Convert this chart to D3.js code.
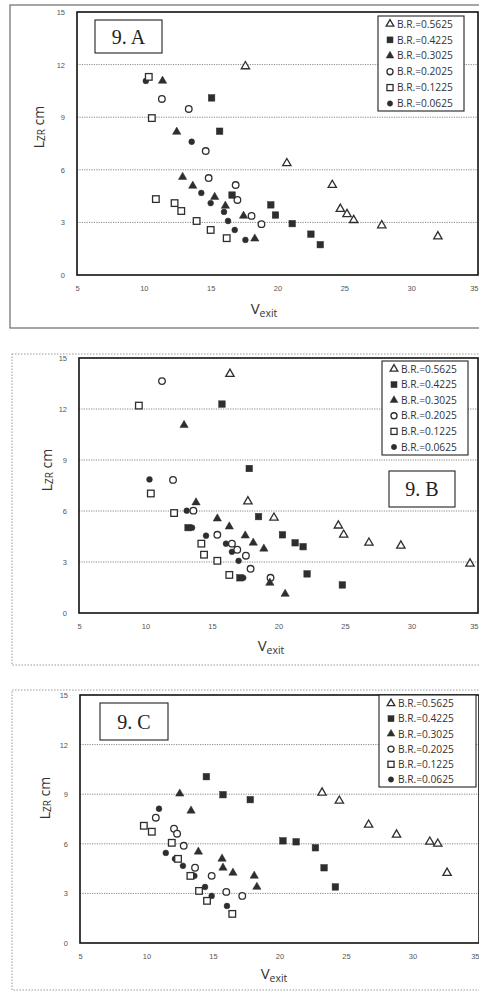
<!DOCTYPE html>
<html><head><meta charset="utf-8">
<script src="https://cdn.jsdelivr.net/npm/d3@7"></script>
<style>body{margin:0;background:#fff}svg{display:block}</style>
</head><body><svg id="c" width="479" height="991"></svg>
<script>
// ---------- data ----------
const seriesLabels = ["B.R.=0.5625","B.R.=0.4225","B.R.=0.3025","B.R.=0.2025","B.R.=0.1225","B.R.=0.0625"];
const seriesShapes = ["triOpen","sqFill","triFill","circOpen","sqOpen","circFill"];
const xTicks = [5,10,15,20,25,30,35];
const yTicks = [0,3,6,9,12,15];
const gridValues = [3,6,9,12];
const panelTitles = ["9. A","9. B","9. C"];

// Panel 9.A  [Vexit, LZR]
const A_05625 = [[17.6,11.9],[20.7,6.37],[24.1,5.13],[24.7,3.77],[25.2,3.47],[25.7,3.13],[27.8,2.83],[32.0,2.2]];
const A_04225 = [[15.07,10.1],[15.67,8.2],[16.6,4.56],[19.5,4.0],[19.85,3.42],[21.1,2.93],[22.5,2.33],[23.2,1.73]];
const A_03025 = [[11.4,11.07],[12.46,8.16],[12.9,5.59],[13.66,5.08],[15.3,4.45],[16.1,3.94],[17.46,3.37],[18.3,2.07]];
const A_02025 = [[11.35,10.04],[13.36,9.47],[14.63,7.07],[14.85,5.53],[16.87,5.13],[17.0,4.28],[18.06,3.37],[18.8,2.9]];
const A_01225 = [[10.37,11.3],[10.6,8.95],[10.9,4.33],[12.3,4.1],[12.8,3.65],[13.95,3.08],[15.0,2.57],[16.2,2.1]];
const A_00625 = [[10.15,11.07],[13.58,7.6],[14.3,4.68],[15.0,4.1],[16.0,3.6],[16.3,3.08],[16.8,2.57],[17.6,2.0]];

// Panel 9.B
const B_05625 = [[16.35,14.06],[17.7,6.56],[19.66,5.6],[24.5,5.14],[24.9,4.6],[26.8,4.13],[29.2,3.96],[34.4,2.9]];
const B_04225 = [[15.75,12.29],[17.8,8.5],[18.5,5.67],[13.2,5.02],[20.3,4.6],[21.25,4.13],[21.85,3.9],[22.15,2.3],[17.1,2.07],[24.8,1.65]];
const B_03025 = [[12.9,11.05],[13.8,6.5],[15.4,5.55],[16.3,5.08],[17.5,4.55],[18.1,4.13],[18.9,3.78],[19.35,1.77],[20.5,1.12]];
const B_02025 = [[11.24,13.64],[12.07,7.83],[13.6,6.02],[15.4,4.6],[16.5,4.08],[16.9,3.72],[17.55,3.37],[17.9,2.6],[19.4,2.07]];
const B_01225 = [[9.5,12.2],[10.4,7.03],[12.15,5.88],[14.2,4.08],[14.4,3.43],[15.4,3.07],[16.3,2.24]];
const B_00625 = [[10.3,7.86],[13.1,6.02],[13.5,5.02],[14.55,4.55],[16.05,4.08],[16.5,3.6],[17.0,3.07],[17.35,2.07]];

// Panel 9.C
const C_05625 = [[23.2,9.09],[24.5,8.6],[26.7,7.15],[28.8,6.55],[31.3,6.12],[31.9,6.0],[32.6,4.24]];
const C_04225 = [[14.5,10.06],[15.75,8.97],[17.8,8.67],[20.26,6.18],[21.25,6.12],[22.7,5.76],[23.35,4.55],[24.2,3.39]];
const C_03025 = [[12.5,9.03],[13.35,8.0],[13.9,5.52],[15.68,5.09],[15.75,4.55],[16.5,4.24],[18.1,4.06],[18.3,3.39]];
const C_02025 = [[10.7,7.58],[12.07,6.91],[12.3,6.61],[12.8,5.88],[13.65,4.55],[14.9,4.06],[16.0,3.09],[17.2,2.85]];
const C_01225 = [[9.8,7.09],[10.4,6.73],[11.9,6.06],[12.37,5.09],[13.3,4.06],[13.95,3.15],[14.55,2.55],[16.45,1.76]];
const C_00625 = [[10.94,8.12],[11.45,5.45],[12.14,5.09],[12.74,4.67],[13.6,4.06],[14.4,3.39],[14.9,2.85],[16.05,2.24]];

const panelData = [
  [A_05625,A_04225,A_03025,A_02025,A_01225,A_00625],
  [B_05625,B_04225,B_03025,B_02025,B_01225,B_00625],
  [C_05625,C_04225,C_03025,C_02025,C_01225,C_00625]
];

// ---------- layout ----------
const layouts = [
  {frame:[10,5,480,323], dash:null, plot:{l:77,r:478,t:12,b:275}, titleBox:[95,20,67,33],
   legend:[378,16,86,95], legRow0:8, legStep:15.9, ylab:[38,127], xlab:[264,314], tickY:290},
  {frame:[12,354,480,311], dash:"1.5,1.5", plot:{l:79,r:478,t:358,b:613}, titleBox:[389,471,66,36],
   legend:[382,361,86,94], legRow0:8, legStep:15.6, ylab:[46,470], xlab:[271,651], tickY:628},
  {frame:[12,690,480,300], dash:"1.5,1.5", plot:{l:80,r:479,t:695,b:943}, titleBox:[100,703,68,37],
   legend:[379,695,97,92], legRow0:8.5, legStep:15.2, ylab:[44,798], xlab:[274,979], tickY:958}
];

const svg = d3.select("#c");
const ink = "#2e2e2e";

function drawMarker(g, shape, x, y, scale) {
  const s = scale || 1;
  if (shape === "triOpen" || shape === "triFill") {
    g.append("path").attr("d", d3.symbol(d3.symbolTriangle, 30*s)())
      .attr("transform", `translate(${x},${y})`)
      .attr("fill", shape === "triFill" ? ink : "#fff")
      .attr("stroke", ink).attr("stroke-width", shape === "triFill" ? 0.5 : 1.3);
  } else if (shape === "sqOpen" || shape === "sqFill") {
    const w = shape === "sqFill" ? 6.5*Math.sqrt(s) : 6.6*Math.sqrt(s);
    g.append("rect").attr("x", x-w/2).attr("y", y-w/2).attr("width", w).attr("height", w)
      .attr("fill", shape === "sqFill" ? ink : "#fff")
      .attr("stroke", ink).attr("stroke-width", shape === "sqFill" ? 0.5 : 1.3);
  } else {
    const r = shape === "circFill" ? 2.9*Math.sqrt(s) : 3.3*Math.sqrt(s);
    g.append("circle").attr("cx", x).attr("cy", y).attr("r", r)
      .attr("fill", shape === "circFill" ? ink : "#fff")
      .attr("stroke", ink).attr("stroke-width", shape === "circFill" ? 0.5 : 1.3);
  }
}

layouts.forEach((L, pi) => {
  const g = svg.append("g");
  // outer frame
  g.append("rect").attr("x", L.frame[0]).attr("y", L.frame[1]).attr("width", L.frame[2]).attr("height", L.frame[3])
    .attr("fill", "none").attr("stroke", pi === 0 ? "#777" : "#999")
    .attr("stroke-width", pi === 0 ? 1.3 : 1).attr("stroke-dasharray", L.dash);

  const x = d3.scaleLinear().domain([5,35]).range([L.plot.l, L.plot.r]);
  const y = d3.scaleLinear().domain([0,15]).range([L.plot.b, L.plot.t]);

  // grid
  g.selectAll(".grid").data(gridValues).enter().append("line")
    .attr("x1", L.plot.l).attr("x2", L.plot.r)
    .attr("y1", d => y(d)).attr("y2", d => y(d))
    .attr("stroke", "#888").attr("stroke-width", 1).attr("stroke-dasharray", "1.2,1.2");

  // axes
  const yAx = g.append("g").attr("transform", `translate(${L.plot.l},0)`)
    .call(d3.axisLeft(y).tickValues(yTicks).tickSize(0).tickPadding(12).tickFormat(d3.format("d")));
  yAx.select(".domain").remove();
  yAx.selectAll("text").attr("font-family", "Liberation Sans, Arial, sans-serif").attr("font-size", 7.5).attr("fill", "#555");

  const xAx = g.append("g").attr("transform", `translate(0,${L.plot.b})`)
    .call(d3.axisBottom(x).tickValues(xTicks).tickSize(0).tickPadding(L.tickY - L.plot.b - 4).tickFormat(d3.format("d")));
  xAx.select(".domain").remove();
  xAx.selectAll("text").attr("font-family", "Liberation Sans, Arial, sans-serif").attr("font-size", 7.5).attr("fill", "#555")
    .attr("text-anchor", d => d === 35 ? "end" : "middle");

  // data markers (drawn lowest legend entry first)
  const series = panelData[pi];
  for (let si = series.length - 1; si >= 0; si--) {
    series[si].forEach(p => drawMarker(g, seriesShapes[si], x(p[0]), y(p[1])));
  }

  // plot border
  g.append("rect").attr("x", L.plot.l).attr("y", L.plot.t)
    .attr("width", L.plot.r - L.plot.l).attr("height", L.plot.b - L.plot.t)
    .attr("fill", "none").attr("stroke", "#111").attr("stroke-width", 1.6);

  // title box
  const tb = L.titleBox;
  g.append("rect").attr("x", tb[0]).attr("y", tb[1]).attr("width", tb[2]).attr("height", tb[3])
    .attr("fill", "#fff").attr("stroke", "#222").attr("stroke-width", 1.1);
  g.append("text").attr("x", tb[0] + tb[2]/2).attr("y", tb[1] + tb[3]/2 + 7)
    .attr("text-anchor", "middle").attr("font-family", "Liberation Serif, Times New Roman, serif")
    .attr("font-size", 20).attr("fill", "#222").text(panelTitles[pi]);

  // legend
  const lg = L.legend;
  g.append("rect").attr("x", lg[0]).attr("y", lg[1]).attr("width", lg[2]).attr("height", lg[3])
    .attr("fill", "#fff").attr("stroke", "#222").attr("stroke-width", 1.1);
  seriesLabels.forEach((lab, i) => {
    const cy = lg[1] + L.legRow0 + i * L.legStep;
    drawMarker(g, seriesShapes[i], lg[0] + 12, cy, 0.85);
    g.append("text").attr("x", lg[0] + 19).attr("y", cy + 3.6)
      .attr("font-family", "Open Sans, Liberation Sans, sans-serif").attr("font-size", 10.2)
      .attr("fill", "#333").text(lab);
  });

  // y label
  const yl = g.append("text").attr("transform", `translate(${L.ylab[0]},${L.ylab[1]}) rotate(-90)`)
    .attr("text-anchor", "middle").attr("dominant-baseline", "central")
    .attr("font-family", "Open Sans, Liberation Sans, sans-serif").attr("font-size", 14).attr("fill", "#333");
  yl.append("tspan").text("L");
  yl.append("tspan").attr("font-size", 10).attr("baseline-shift", "-25%").text("ZR");
  yl.append("tspan").text("  cm");

  // x label
  const xl = g.append("text").attr("x", L.xlab[0]).attr("y", L.xlab[1])
    .attr("text-anchor", "middle")
    .attr("font-family", "Open Sans, Liberation Sans, sans-serif").attr("font-size", 15).attr("fill", "#333");
  xl.append("tspan").text("V");
  xl.append("tspan").attr("font-size", 10.5).attr("baseline-shift", "-30%").text("exit");
});
</script></body></html>
